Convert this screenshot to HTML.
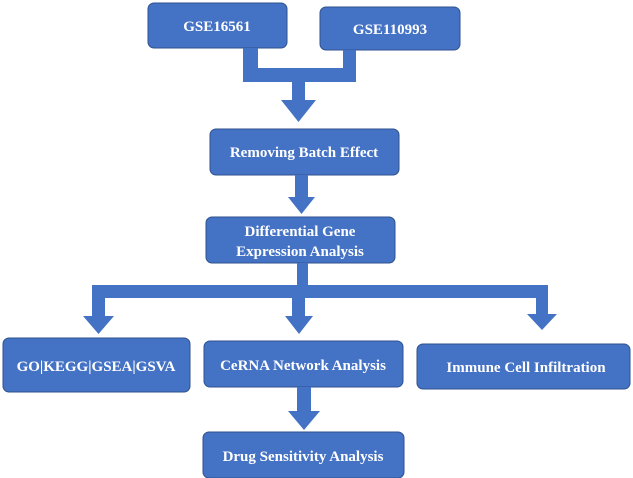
<!DOCTYPE html>
<html><head><style>
html,body{margin:0;padding:0;background:#fff;}
svg{display:block;}
text{font-family:"Liberation Serif",serif;font-weight:bold;fill:#fff;font-size:15px;text-anchor:middle;}
</style></head><body>
<svg width="633" height="478" viewBox="0 0 633 478">
<g fill="#4472C4" stroke="#2F528F" stroke-width="1">
<rect x="148" y="3" width="139" height="45" rx="6"/>
<rect x="320" y="7" width="140" height="43" rx="6"/>
<rect x="210" y="129" width="189" height="46" rx="6"/>
<rect x="206" y="217" width="189" height="46" rx="6"/>
<rect x="3" y="338" width="187" height="54" rx="6"/>
<rect x="204" y="341" width="199" height="46" rx="6"/>
<rect x="417" y="344" width="213" height="45" rx="6"/>
<rect x="203" y="432" width="201" height="46" rx="6"/>
</g>
<g fill="#4472C4">
<!-- top bracket -->
<path d="M243 48 H258 V68 H343 V50 H356 V82 H305 V100 H316 L298.5 122 L281 100 H292 V82 H243 Z"/>
<!-- removing -> differential -->
<path d="M295 175 H308 V197 H315 L301.5 214 L288 197 H295 Z"/>
<!-- differential -> three -->
<path d="M297 263 H308 V285 H548 V314 H557 L542 330 L527 314 H536 V298 H305 V316 H313 L299 334 L285 316 H292 V298 H105 V316 H114 L98.5 334 L83 316 H92 V285 H297 Z"/>
<!-- cerna -> drug -->
<path d="M297 387 H311 V411 H320 L304 430 L288 411 H297 Z"/>
</g>
<text x="217" y="31">GSE16561</text>
<text x="390" y="34">GSE110993</text>
<text x="304" y="157">Removing Batch Effect</text>
<text x="300" y="236">Differential Gene</text>
<text x="300" y="256">Expression Analysis</text>
<text x="96" y="371">GO|KEGG|GSEA|GSVA</text>
<text x="303" y="370">CeRNA Network Analysis</text>
<text x="526" y="372">Immune Cell Infiltration</text>
<text x="303" y="461">Drug Sensitivity Analysis</text>
</svg>
</body></html>
